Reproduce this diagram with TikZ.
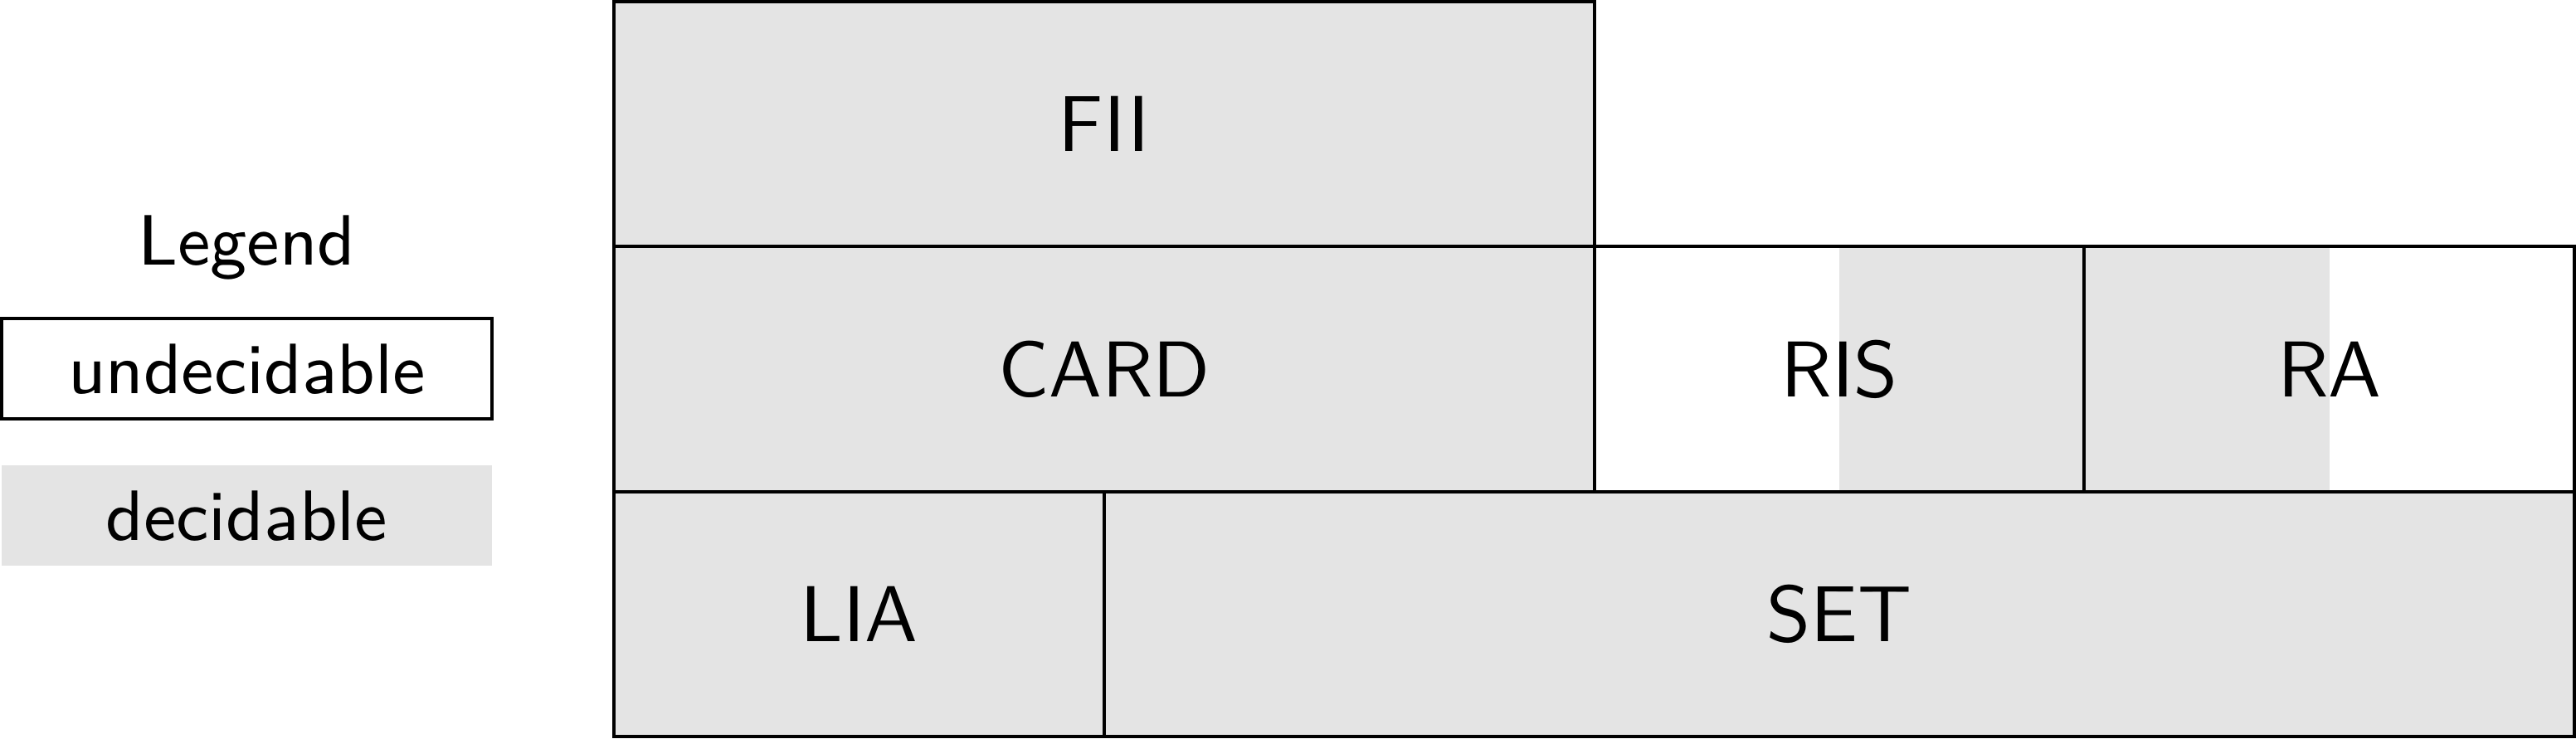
\documentclass[tikz,border=0pt]{standalone}
\usepackage{fontspec}
\newfontfamily\lmsten{lmsans10-regular}[Extension=.otf]
\newfontfamily\lmsnine{lmsans9-regular}[Extension=.otf]
\definecolor{decgray}{RGB}{228,228,228}
\begin{document}
\begin{tikzpicture}[
  x=1cm, y=1cm, line width=0.4pt,
  cellbox/.style={draw=black, inner sep=0pt, outer sep=0pt, minimum height=1cm,
    font=\lmsten\fontsize{9.2}{11}\selectfont},
  graycell/.style={cellbox, fill=decgray},
  legendbox/.style={inner sep=0pt, outer sep=0pt, minimum width=2cm, minimum height=0.409cm,
    font=\lmsnine\fontsize{8.28}{10}\selectfont},
  legendtitle/.style={inner sep=0pt, anchor=base, font=\lmsnine\fontsize{8.28}{10}\selectfont}
]
\useasboundingbox (-2.5068,-0.0068) rectangle (8.0068,3.0068);
% legend
\node[legendtitle] (legend) at (-1.5,1.926) {Legend};
\node[legendbox, draw=black] (undec) at (-1.5,1.501) {undecidable};
\node[legendbox, fill=decgray] (dec) at (-1.5,0.9015) {decidable};
% partial fills for RIS and RA
\fill[decgray] (5,1) rectangle (6,2);
\fill[decgray] (6,1) rectangle (7,2);
% cells
\node[graycell, minimum width=4cm] (fii) at (2,2.5) {FII};
\node[graycell, minimum width=4cm] (card) at (2,1.5) {CARD};
\node[cellbox, minimum width=2cm] (ris) at (5,1.5) {RIS};
\node[cellbox, minimum width=2cm] (ra) at (7,1.5) {RA};
\node[graycell, minimum width=2cm] (lia) at (1,0.5) {LIA};
\node[graycell, minimum width=6cm] (set) at (5,0.5) {SET};
\end{tikzpicture}
\end{document}
